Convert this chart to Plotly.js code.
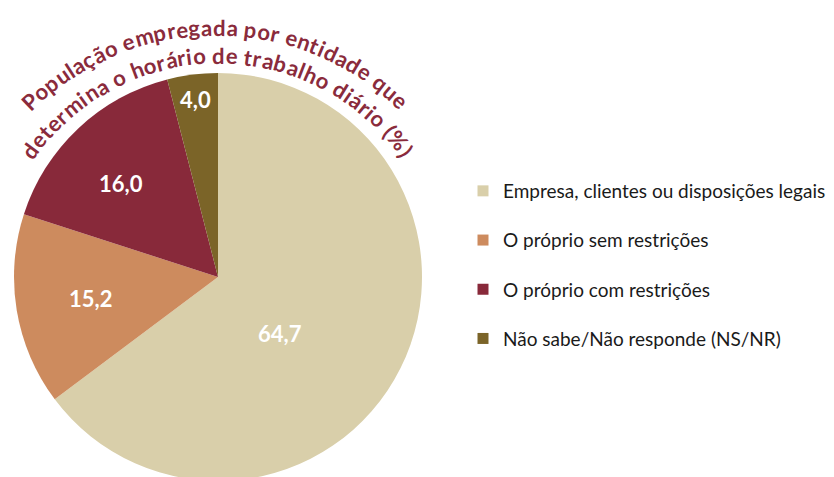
<!DOCTYPE html>
<html><head><meta charset="utf-8">
<script src="https://cdn.plot.ly/plotly-3.0.1.min.js"></script>
<style>html,body{margin:0;padding:0;overflow:hidden;background:#fff}</style>
</head><body><div id="chart"></div>
<script>
// ---- data ----
const categories = ["Empresa, clientes ou disposições legais", "O próprio sem restrições", "O próprio com restrições", "Não sabe/Não responde (NS/NR)"];
const values = [64.7, 15.2, 16.0, 4.0];
const colors = ["#D9CFAA", "#CD8B5E", "#88293A", "#7B6428"];
const titleLines = ["População empregada por entidade que", "determina o horário de trabalho diário (%)"];

// ---- layout geometry ----
const W = 834, H = 481;
const pieCx = 218, pieCy = 277, pieR = 204;
const labelRadius = [0.41, 0.635, 0.66, 0.875];
const labelAngleNudge = [15.6, 0, -3, 0];
const arcs = [
  {cx: 216, cy: 297, r: 270, a0: -43.6, a1: 43.2},
  {cx: 218, cy: 288, r: 233, a0: -53.8, a1: 54.0}
];
const titleColor = "#8A2B3C";
const fontFam = "Lato, 'Open Sans', sans-serif";

const traces = [{
  type: "pie", values: values, labels: categories, sort: false,
  direction: "clockwise", rotation: 0,
  marker: {colors: colors, line: {width: 0}},
  textinfo: "none", hoverinfo: "label+value", showlegend: false,
  domain: {x: [(pieCx - pieR) / W, (pieCx + pieR) / W], y: [(H - pieCy - pieR) / H, (H - pieCy + pieR) / H]}
}];
categories.forEach((c, i) => traces.push({
  type: "scatter", mode: "markers", x: [null], y: [null], name: c,
  legendgroup: "g" + i,
  marker: {symbol: "square", size: 11, color: colors[i], line: {width: 0}},
  showlegend: true, hoverinfo: "skip"
}));

const annotations = [];
// slice labels from values
const total = values.reduce((a, b) => a + b, 0);
let cum = 0;
values.forEach((v, i) => {
  const mid = (cum + v / 2) / total * 360 + labelAngleNudge[i];
  cum += v;
  const th = mid * Math.PI / 180, rr = pieR * labelRadius[i];
  const px = pieCx + rr * Math.sin(th), py = pieCy - rr * Math.cos(th);
  annotations.push({
    x: px / W, y: 1 - py / H, xref: "paper", yref: "paper", showarrow: false,
    xanchor: "center", yanchor: "middle",
    text: v.toFixed(1).replace(".", ","),
    font: {family: fontFam, size: 22, color: "#FFFFFF", weight: 700}
  });
});

// curved title, one annotation per character
const cv = document.createElement("canvas").getContext("2d");
function measure(s, f) { cv.font = "bold " + f + "px Lato"; return cv.measureText(s).width; }
const baseF = 21;
const ks = titleLines.map((line, li) => {
  const A = arcs[li];
  const first = measure(line[0], baseF) / 2;
  const last = measure(line.slice(0, -1), baseF) + measure(line.slice(-1), baseF) / 2;
  const arcLen = A.r * (A.a1 - A.a0) * Math.PI / 180;
  return arcLen / (last - first);
});
const fSize = Math.min(22, baseF * (ks[0] + ks[1]) / 2);
titleLines.forEach((line, li) => {
  const A = arcs[li];
  const centers = [];
  for (let i = 0; i < line.length; i++) {
    centers.push(measure(line.slice(0, i), fSize) + measure(line[i], fSize) / 2);
  }
  const c0 = centers[0], c1 = centers[centers.length - 1];
  for (let i = 0; i < line.length; i++) {
    if (line[i] === " ") continue;
    const a = A.a0 + (centers[i] - c0) / (c1 - c0) * (A.a1 - A.a0);
    const th = a * Math.PI / 180;
    const px = A.cx + A.r * Math.sin(th), py = A.cy - A.r * Math.cos(th);
    annotations.push({
      x: px / W, y: 1 - py / H, xref: "paper", yref: "paper", showarrow: false,
      xanchor: "center", yanchor: "middle", textangle: a, borderpad: 0,
      text: line[i],
      font: {family: fontFam, size: fSize, color: titleColor, weight: 700}
    });
  }
});

const layout = {
  width: W, height: H,
  margin: {l: 0, r: 0, t: 0, b: 0},
  paper_bgcolor: "#FFFFFF", plot_bgcolor: "rgba(0,0,0,0)",
  showlegend: true,
  xaxis: {visible: false}, yaxis: {visible: false},
  legend: {
    x: 463 / W, xanchor: "left", y: 1 - 172 / H, yanchor: "top",
    tracegroupgap: 21.5, bgcolor: "rgba(0,0,0,0)",
    font: {family: fontFam, size: 19, color: "#1A1A1A"},
    itemclick: false
  },
  annotations: annotations
};
Plotly.newPlot("chart", traces, layout, {displayModeBar: false, staticPlot: true});
</script>
</body></html>
